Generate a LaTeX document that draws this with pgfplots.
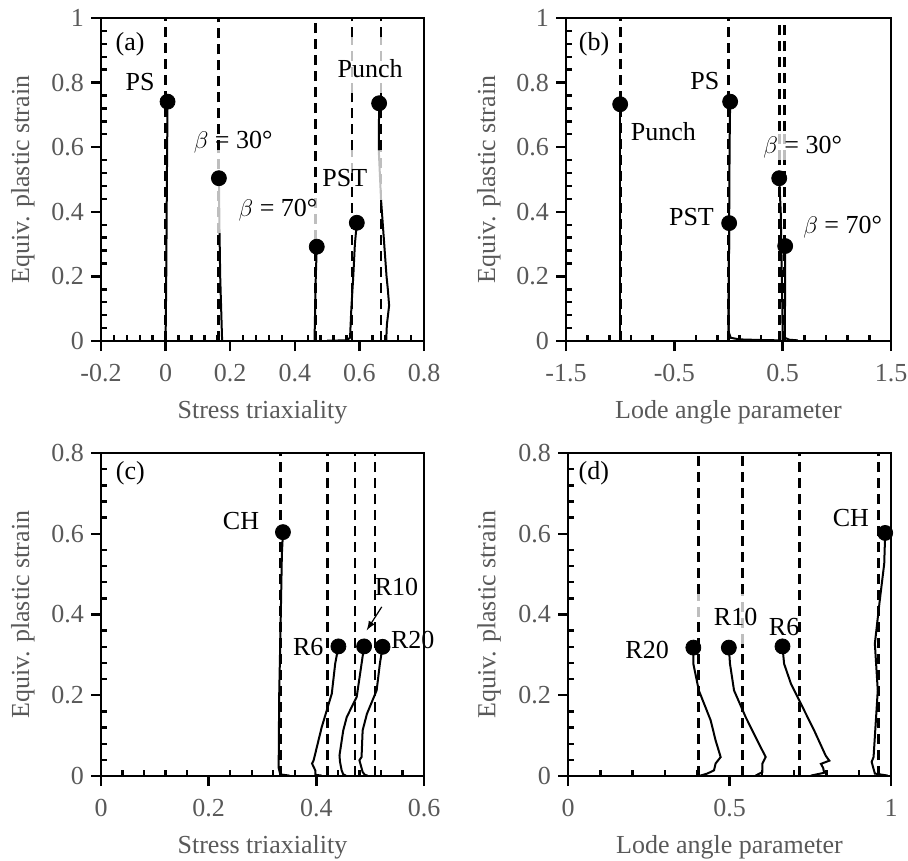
\documentclass[border=0pt]{standalone}
\usepackage{pgfplots}
\pgfplotsset{compat=1.18}
\usepackage{fontspec}
\setmainfont{Liberation Serif}
\definecolor{labgray}{RGB}{89,89,89}
\definecolor{lg}{RGB}{190,190,190}
\newcommand{\fs}{\fontsize{13}{15}\selectfont}
\pgfplotsset{
  myaxis/.style={
    scale only axis, clip=false,
    axis line style={line width=0.9pt, black},
    tick align=outside, xtick pos=bottom, ytick pos=left,
    major tick length=5pt, minor tick length=3pt,
    tick style={black, line width=1.2pt},
    minor x tick style={yshift=3pt},
    minor y tick style={xshift=3pt},
    minor tick num=4,
    tick label style={font=\fs, text=labgray},
    xticklabel style={yshift=-3pt},
    label style={font=\fs, text=labgray},
    /pgf/number format/assume math mode=true,
    xlabel style={at={(axis description cs:0.5,-0.22)}, anchor=center},
  },
  dl/.style={line width=1.4pt, dash pattern=on 5pt off 3pt, black, forget plot},
  cv/.style={line width=1pt, black, forget plot},
  dt/.style={only marks, mark=*, mark size=3.75pt, black, forget plot},
}
\begin{document}
\begin{tikzpicture}
\path[use as bounding box] (0,0) rectangle (454pt,-430pt);
% ---------------- (a)
\begin{axis}[myaxis, at={(50.5pt,-170.5pt)}, anchor=south west,
  width=161.5pt, height=161.5pt,
  xmin=-0.2, xmax=0.8, ymin=0, ymax=1,
  xtick={-0.2,0,0.2,0.4,0.6,0.8}, ytick={0,0.2,0.4,0.6,0.8,1},
  xlabel={Stress triaxiality}, ylabel={Equiv. plastic strain},
  ylabel style={at={(axis description cs:-0.2415,0.5)}, anchor=center}]
\addplot[dl] coordinates {(0,0) (0,1)};
\addplot[dl] coordinates {(0.164,0) (0.164,0.334)};
\addplot[dl,lg] coordinates {(0.164,0.334) (0.164,0.59)};
\addplot[dl] coordinates {(0.164,0.59) (0.164,1)};
\addplot[dl] coordinates {(0.465,0) (0.465,0.313)};
\addplot[dl,lg] coordinates {(0.465,0.313) (0.465,0.458)};
\addplot[dl] coordinates {(0.465,0.458) (0.465,1)};
\addplot[dl] coordinates {(0.577,0) (0.577,0.52)};
\addplot[dl,lg] coordinates {(0.577,0.52) (0.577,0.59)};
\addplot[dl] coordinates {(0.577,0.59) (0.577,0.768)};
\addplot[dl,lg] coordinates {(0.577,0.768) (0.577,0.94)};
\addplot[dl] coordinates {(0.577,0.94) (0.577,1)};
\addplot[dl] coordinates {(0.667,0) (0.667,0.437)};
\addplot[dl,lg] coordinates {(0.667,0.437) (0.667,0.59)};
\addplot[dl] coordinates {(0.667,0.59) (0.667,0.768)};
\addplot[dl,lg] coordinates {(0.667,0.768) (0.667,0.94)};
\addplot[dl] coordinates {(0.667,0.94) (0.667,1)};
% curves
\addplot[cv] coordinates {(0,0) (0.002,0.2) (0.004,0.5) (0.006,0.741)};
\addplot[cv] coordinates {(0.175,0) (0.172,0.1) (0.169,0.2) (0.167,0.334)};
\addplot[cv,lg] coordinates {(0.167,0.334) (0.165,0.504)};
\addplot[cv] coordinates {(0.461,0) (0.463,0.1) (0.465,0.2) (0.468,0.292)};
\addplot[cv] coordinates {(0.50,0.001) (0.56,0.002) (0.571,0.01) (0.575,0.1) (0.581,0.2) (0.586,0.3) (0.592,0.366)};
\addplot[cv] coordinates {(0.683,0) (0.685,0.05) (0.692,0.11) (0.688,0.16) (0.684,0.2) (0.667,0.437)};
\addplot[cv,lg] coordinates {(0.667,0.437) (0.660,0.59)};
\addplot[cv] coordinates {(0.660,0.59) (0.661,0.736)};
\addplot[dt] coordinates {(0.006,0.741) (0.165,0.504) (0.468,0.292) (0.592,0.366) (0.661,0.736)};
\node[font=\fs] at (axis cs:-0.11,0.92) {(a)};
\node[font=\fs] at (axis cs:-0.079,0.803) {PS};
\node[font=\fs] at (axis cs:0.209,0.617) {$\beta$ = 30°};
\node[font=\fs] at (axis cs:0.348,0.406) {$\beta$ = 70°};
\node[font=\fs] at (axis cs:0.555,0.504) {PST};
\node[font=\fs] at (axis cs:0.633,0.844) {Punch};
\end{axis}
% ---------------- (b)
\begin{axis}[myaxis, at={(283pt,-170.5pt)}, anchor=south west,
  width=162.5pt, height=161.5pt,
  xmin=-1.5, xmax=1.5, ymin=0, ymax=1,
  xtick={-1.5,-0.5,0.5,1.5}, ytick={0,0.2,0.4,0.6,0.8,1},
  xlabel={Lode angle parameter}, ylabel={Equiv. plastic strain},
  ylabel style={at={(axis description cs:-0.237,0.5)}, anchor=center}]
\addplot[dl] coordinates {(-1,0) (-1,1)};
\addplot[dl] coordinates {(0,0) (0,1)};
\addplot[dl] coordinates {(0.47,0) (0.47,0.56)};
\addplot[dl,lg] coordinates {(0.47,0.56) (0.47,0.65)};
\addplot[dl] coordinates {(0.47,0.65) (0.47,1)};
\addplot[dl] coordinates {(0.52,0) (0.52,0.56)};
\addplot[dl,lg] coordinates {(0.52,0.56) (0.52,0.65)};
\addplot[dl] coordinates {(0.52,0.65) (0.52,1)};
\addplot[cv] coordinates {(-1,0) (-1,0.733)};
\addplot[cv] coordinates {(0,0) (0.005,0.3) (0.01,0.6) (0.015,0.741)};
\addplot[cv] coordinates {(0,0.03) (0.02,0.01) (0.1,0.005) (0.3,0.003) (0.48,0.002)};
\addplot[cv] coordinates {(0,0) (0.003,0.2) (0.006,0.365)};
\addplot[cv] coordinates {(0.50,0) (0.497,0.1) (0.49,0.25) (0.482,0.4) (0.468,0.504)};
\addplot[cv] coordinates {(0.52,0) (0.522,0.15) (0.523,0.294)};
\addplot[cv] coordinates {(0.52,0.01) (0.56,0.004) (0.64,0.002)};
\addplot[dt] coordinates {(-1,0.733) (0.015,0.741) (0.006,0.365) (0.468,0.504) (0.523,0.294)};
\node[font=\fs] at (axis cs:-1.241,0.918) {(b)};
\node[font=\fs] at (axis cs:-0.219,0.805) {PS};
\node[font=\fs] at (axis cs:-0.601,0.647) {Punch};
\node[font=\fs] at (axis cs:-0.342,0.383) {PST};
\node[font=\fs] at (axis cs:0.684,0.599) {$\beta$ = 30°};
\node[font=\fs] at (axis cs:1.053,0.353) {$\beta$ = 70°};
\end{axis}
% ---------------- (c)
\begin{axis}[myaxis, at={(50.5pt,-388pt)}, anchor=south west,
  width=161.5pt, height=161.5pt,
  xmin=0, xmax=0.6, ymin=0, ymax=0.8,
  xtick={0,0.2,0.4,0.6}, ytick={0,0.2,0.4,0.6,0.8},
  xlabel={Stress triaxiality}, ylabel={Equiv. plastic strain},
  ylabel style={at={(axis description cs:-0.2415,0.5)}, anchor=center}]
\addplot[dl] coordinates {(0.333,0) (0.333,0.8)};
\addplot[dl] coordinates {(0.421,0) (0.421,0.8)};
\addplot[dl] coordinates {(0.472,0) (0.472,0.8)};
\addplot[dl] coordinates {(0.509,0) (0.509,0.8)};
\addplot[cv] coordinates {(0.350,0.001) (0.333,0.004) (0.330,0.02) (0.331,0.2) (0.334,0.4) (0.336,0.55) (0.338,0.604)};
\addplot[cv] coordinates {(0.41,0.001) (0.398,0.003) (0.398,0.014) (0.392,0.031) (0.395,0.039) (0.410,0.121) (0.4287,0.204) (0.435,0.278) (0.441,0.321)};
\addplot[cv] coordinates {(0.455,0.001) (0.450,0.004) (0.447,0.014) (0.444,0.035) (0.443,0.051) (0.450,0.113) (0.4565,0.146) (0.475,0.196) (0.484,0.278) (0.4887,0.321)};
\addplot[cv] coordinates {(0.495,0.001) (0.49,0.003) (0.486,0.010) (0.480,0.039) (0.484,0.047) (0.486,0.113) (0.494,0.154) (0.512,0.212) (0.518,0.278) (0.523,0.320)};
\addplot[dt] coordinates {(0.338,0.604) (0.441,0.321) (0.4887,0.321) (0.523,0.320)};
\draw[-latex, line width=0.6pt] (axis cs:0.5215,0.419) -- (axis cs:0.4936,0.361);
\node[font=\fs] at (axis cs:0.0544,0.749) {(c)};
\node[font=\fs] at (axis cs:0.26,0.632) {CH};
\node[font=\fs] at (axis cs:0.385,0.320) {R6};
\node[font=\fs] at (axis cs:0.549,0.468) {R10};
\node[font=\fs] at (axis cs:0.579,0.336) {R20};
\end{axis}
% ---------------- (d)
\begin{axis}[myaxis, at={(284pt,-388pt)}, anchor=south west,
  width=161.5pt, height=161.5pt,
  xmin=0, xmax=1, ymin=0, ymax=0.8,
  xtick={0,0.5,1}, ytick={0,0.2,0.4,0.6,0.8},
  xlabel={Lode angle parameter}, ylabel={Equiv. plastic strain},
  ylabel style={at={(axis description cs:-0.2446,0.5)}, anchor=center}]
\addplot[dl] coordinates {(0.405,0) (0.405,0.394)};
\addplot[dl,lg] coordinates {(0.405,0.394) (0.405,0.452)};
\addplot[dl] coordinates {(0.405,0.452) (0.405,0.8)};
\addplot[dl] coordinates {(0.540,0) (0.540,0.328)};
\addplot[dl,lg] coordinates {(0.540,0.328) (0.540,0.452)};
\addplot[dl] coordinates {(0.540,0.452) (0.540,0.8)};
\addplot[dl] coordinates {(0.716,0) (0.716,0.8)};
\addplot[dl] coordinates {(0.962,0) (0.962,0.8)};
\addplot[cv] coordinates {(0.41,0.001) (0.431,0.006) (0.452,0.014) (0.457,0.031) (0.4726,0.047) (0.457,0.088) (0.4416,0.138) (0.405,0.212) (0.388,0.278) (0.388,0.318)};
\addplot[cv] coordinates {(0.581,0.001) (0.602,0.010) (0.602,0.031) (0.612,0.047) (0.586,0.088) (0.550,0.146) (0.514,0.212) (0.5015,0.278) (0.498,0.318)};
\addplot[cv] coordinates {(0.752,0.001) (0.793,0.008) (0.790,0.02) (0.783,0.03) (0.809,0.038) (0.798,0.05) (0.762,0.113) (0.721,0.179) (0.690,0.229) (0.669,0.278) (0.664,0.321)};
\addplot[cv] coordinates {(0.99,0.001) (0.95,0.006) (0.940,0.035) (0.946,0.047) (0.959,0.212) (0.950,0.328) (0.964,0.427) (0.979,0.526) (0.982,0.602)};
\addplot[dt] coordinates {(0.388,0.318) (0.498,0.318) (0.664,0.321) (0.982,0.602)};
\node[font=\fs] at (axis cs:0.08,0.749) {(d)};
\node[font=\fs] at (axis cs:0.876,0.640) {CH};
\node[font=\fs] at (axis cs:0.245,0.311) {R20};
\node[font=\fs] at (axis cs:0.519,0.394) {R10};
\node[font=\fs] at (axis cs:0.669,0.369) {R6};
\end{axis}
\end{tikzpicture}
\end{document}
